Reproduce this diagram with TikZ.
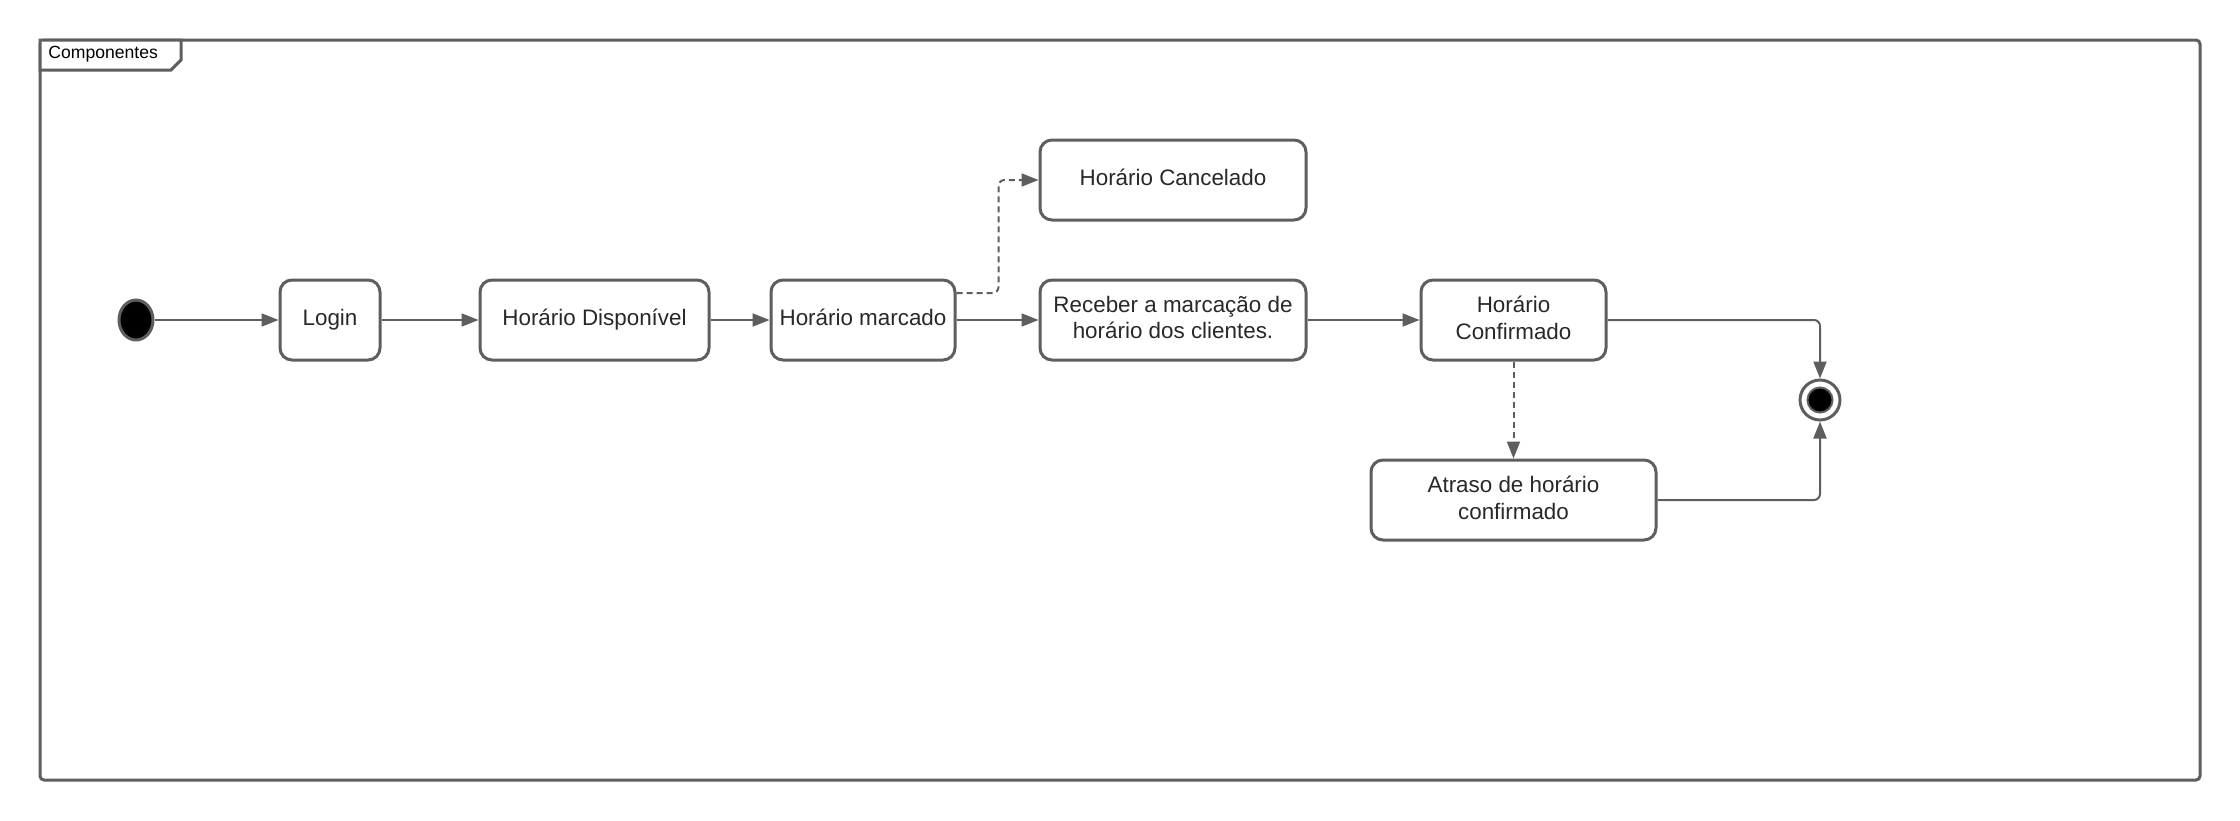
\documentclass[tikz,border=0pt]{standalone}
\usepackage{fontspec}
\setmainfont{Liberation Sans}
\usetikzlibrary{arrows.meta,shapes.geometric,calc}
\definecolor{linecol}{RGB}{94,94,94}
\definecolor{txtcol}{RGB}{40,40,40}
\tikzset{
  state/.style={draw=linecol, line width=1.5pt, rounded corners=6pt, fill=white,
    align=center, inner sep=2pt, minimum height=40pt, text=txtcol, text depth=2.6pt,
    font=\fontsize{11.2pt}{13.4pt}\selectfont},
  arr/.style={draw=linecol, line width=1pt, -{Triangle[length=8.5pt,width=6.5pt]}},
  dasharr/.style={arr, dash pattern=on 3pt off 2pt},
  frameline/.style={draw=linecol, line width=1.5pt}
}
\begin{document}
\begin{tikzpicture}[x=0.5pt,y=-0.5pt]
\useasboundingbox (0,0) rectangle (2240,820);
% frame
\draw[frameline, rounded corners=2pt] (40,40) rectangle (2200,780);
\draw[frameline, fill=white] (40,40) -- (181,40) -- (181,60) -- (171,70) -- (40,70) -- cycle;
\node[anchor=west, inner sep=0pt, font=\fontsize{8.8pt}{10pt}\selectfont] (title) at (48,54) {Componentes};
% initial
\node[ellipse, draw=linecol, line width=1.5pt, fill=black, minimum width=17pt, minimum height=20pt, inner sep=0pt] (init) at (136,320) {};
% states
\node[state, minimum width=50pt] (login) at (330,320) {Login};
\node[state, minimum width=114.5pt] (disp) at (594.5,320) {Horário Disponível};
\node[state, minimum width=92pt] (marc) at (863,320) {Horário marcado};
\node[state, minimum width=133pt] (canc) at (1173,180) {Horário Cancelado};
\node[state, minimum width=133pt] (rec) at (1173,320) {Receber a marcação de\\horário dos clientes.};
\node[state, minimum width=92.5pt] (conf) at (1513.5,320) {Horário\\Confirmado};
\node[state, minimum width=142.5pt] (atr) at (1513.5,500) {Atraso de horário\\confirmado};
% final
\node[circle, draw=linecol, line width=1.5pt, fill=white, minimum size=20pt, inner sep=0pt] (fin) at (1820,400) {};
\node[circle, draw=linecol, line width=1pt, fill=black, minimum size=12.5pt, inner sep=0pt] (fincore) at (fin) {};
% connectors
\draw[arr] (init) -- (login);
\draw[arr] (login) -- (disp);
\draw[arr] (disp) -- (marc);
\draw[arr] (marc) -- (rec);
\draw[arr] (rec) -- (conf);
\coordinate (ds) at ($(marc.east)+(0,-27)$);
\draw[dasharr, rounded corners=3pt] (ds) -- ++(42,0) |- (canc.west);
\draw[dasharr] (conf.south) -- (atr.north);
\draw[arr, rounded corners=3pt] (conf.east) -| (fin.north);
\draw[arr, rounded corners=3pt] (atr.east) -| (fin.south);
\end{tikzpicture}
\end{document}
